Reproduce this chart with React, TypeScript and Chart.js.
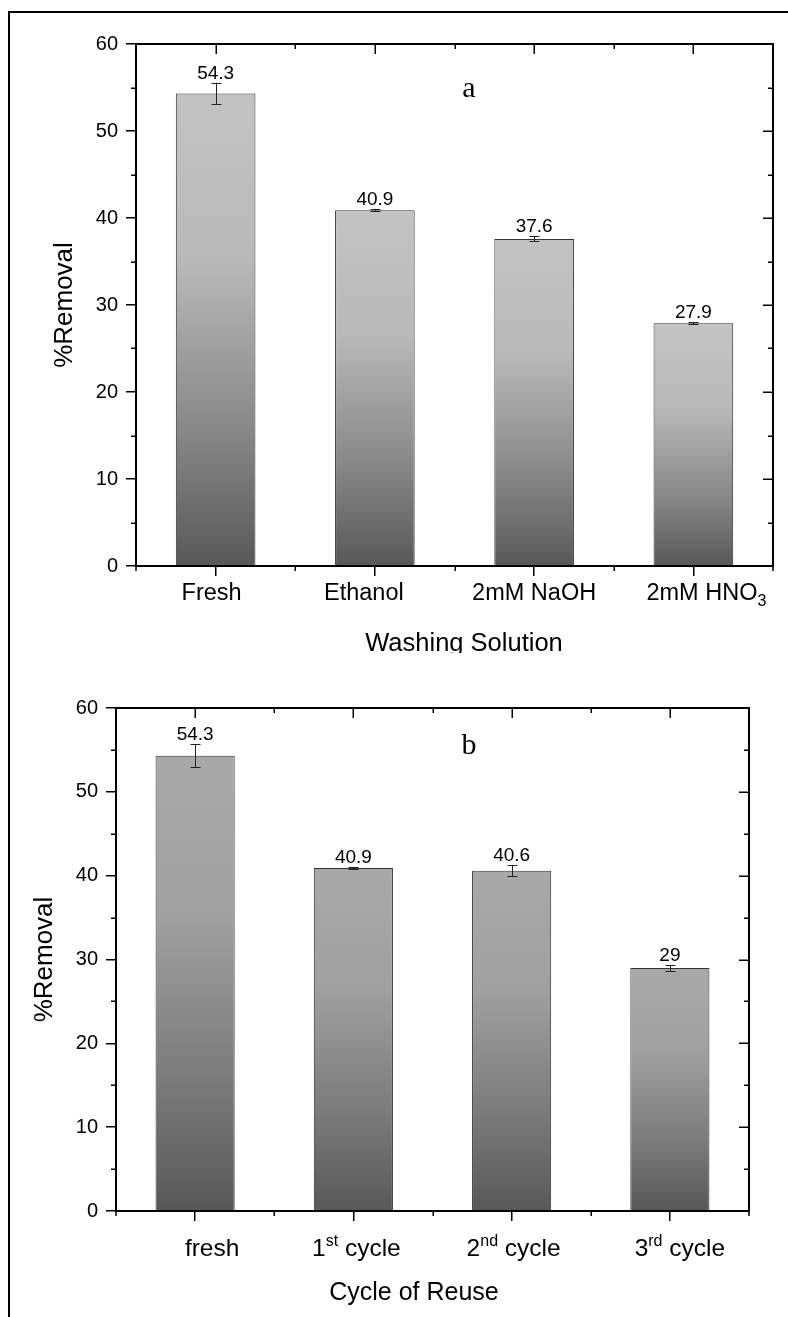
import React, { useEffect, useRef } from 'react';
import { Chart, registerables } from 'chart.js';

Chart.register(...registerables);

// ---------- data ----------
const washCategories = ['Fresh', 'Ethanol', '2mM NaOH', '2mM HNO_{3}'];
const washRemoval = [54.3, 40.9, 37.6, 27.9];
const washError = [1.25, 0.15, 0.3, 0.12];

const cycleCategories = ['fresh', '1^{st} cycle', '2^{nd} cycle', '3^{rd} cycle'];
const cycleRemoval = [54.3, 40.9, 40.6, 29];
const cycleError = [1.35, 0.15, 0.65, 0.35];

const yMin = 0;
const yMax = 60;
const yStep = 10;
const yMinorStep = 5;

const washTitle = 'Washing Solution';
const cycleTitle = 'Cycle of Reuse';
const yTitle = '%Removal';

// ---------- styles / layout ----------
const SANS = "'Liberation Sans', Arial, Helvetica, sans-serif";
const SERIF = "'Liberation Serif', 'Times New Roman', serif";

type Panel = {
  labels: string[];
  values: number[];
  errors: number[];
  height: number;
  area: { left: number; top: number; right: number; bottom: number };
  letter: string;
  letterX: number;
  letterY: number;
  xTitle: string;
  xTitleX: number;
  xTitleY: number;
  xTitleSize: number;
  yTitleX: number;
  labelSize: number;
  labelBaseline: number;
  labelNudge: number[];
  gradStops: [number, string][];
};

const W = 788;

const panelA: Panel = {
  labels: washCategories,
  values: washRemoval,
  errors: washError,
  height: 653,
  area: { left: 136, top: 44, right: 773, bottom: 566 },
  letter: 'a',
  letterX: 469,
  letterY: 97,
  xTitle: washTitle,
  xTitleX: 464,
  xTitleY: 651,
  xTitleSize: 25.5,
  yTitleX: 72,
  labelSize: 23.5,
  labelBaseline: 600,
  labelNudge: [-4, -11, 0, 13],
  gradStops: [
    [0, '#c3c3c3'],
    [0.35, '#b9b9b9'],
    [0.7, '#8a8a8a'],
    [1, '#585858'],
  ],
};

const panelB: Panel = {
  labels: cycleCategories,
  values: cycleRemoval,
  errors: cycleError,
  height: 664,
  area: { left: 116, top: 55, right: 749, bottom: 558 },
  letter: 'b',
  letterX: 469,
  letterY: 101,
  xTitle: cycleTitle,
  xTitleX: 414,
  xTitleY: 647,
  xTitleSize: 25,
  yTitleX: 52,
  labelSize: 24.5,
  labelBaseline: 603,
  labelNudge: [17, 3, 2, 10],
  gradStops: [
    [0, '#a9a9a9'],
    [0.35, '#a0a0a0'],
    [0.7, '#7c7c7c'],
    [1, '#585858'],
  ],
};

// ---------- rich text (sub/superscript) ----------
type Seg = { t: string; mode: 'n' | 'sup' | 'sub' };
function parseRich(s: string): Seg[] {
  const out: Seg[] = [];
  const re = /(\^\{[^}]*\}|_\{[^}]*\})/g;
  let last = 0;
  let m: RegExpExecArray | null;
  while ((m = re.exec(s))) {
    if (m.index > last) out.push({ t: s.slice(last, m.index), mode: 'n' });
    const tok = m[0];
    out.push({ t: tok.slice(2, -1), mode: tok[0] === '^' ? 'sup' : 'sub' });
    last = m.index + tok.length;
  }
  if (last < s.length) out.push({ t: s.slice(last), mode: 'n' });
  return out;
}
function plain(s: string) {
  return parseRich(s).map((p) => p.t).join('');
}
function drawRich(ctx: CanvasRenderingContext2D, s: string, cx: number, baseline: number, size: number) {
  const segs = parseRich(s);
  const small = Math.round(size * 0.66);
  const fontFor = (seg: Seg) => `${seg.mode === 'n' ? size : small}px ${SANS}`;
  let total = 0;
  const widths = segs.map((seg) => {
    ctx.font = fontFor(seg);
    const w = ctx.measureText(seg.t).width;
    total += w;
    return w;
  });
  let x = cx - total / 2;
  ctx.textAlign = 'left';
  ctx.textBaseline = 'alphabetic';
  segs.forEach((seg, i) => {
    ctx.font = fontFor(seg);
    const dy = seg.mode === 'sup' ? -size * 0.4 : seg.mode === 'sub' ? size * 0.26 : 0;
    ctx.fillText(seg.t, x, baseline + dy);
    x += widths[i];
  });
}

function makeConfig(p: Panel): any {
  const decor = {
    id: 'decor',
    afterDatasetsDraw(chart: any) {
      const ctx: CanvasRenderingContext2D = chart.ctx;
      const ys = chart.scales.y;
      const meta = chart.getDatasetMeta(0);
      ctx.save();
      // error bars
      ctx.strokeStyle = '#222';
      ctx.lineWidth = 1;
      p.values.forEach((v, i) => {
        const bar = meta.data[i];
        const x = Math.round(bar.x) + 0.5;
        const yt = ys.getPixelForValue(v + p.errors[i]);
        const yb = ys.getPixelForValue(v - p.errors[i]);
        ctx.beginPath();
        ctx.moveTo(x, yt);
        ctx.lineTo(x, yb);
        ctx.moveTo(x - 5, Math.round(yt) + 0.5);
        ctx.lineTo(x + 5, Math.round(yt) + 0.5);
        ctx.moveTo(x - 5, Math.round(yb) + 0.5);
        ctx.lineTo(x + 5, Math.round(yb) + 0.5);
        ctx.stroke();
        // value label
        ctx.fillStyle = '#000';
        ctx.font = `19px ${SANS}`;
        ctx.textAlign = 'center';
        ctx.textBaseline = 'alphabetic';
        ctx.fillText(String(v), bar.x, yt - 4);
      });
      ctx.restore();
    },
    afterDraw(chart: any) {
      const ctx: CanvasRenderingContext2D = chart.ctx;
      const a = chart.chartArea;
      const xs = chart.scales.x;
      const ys = chart.scales.y;
      ctx.save();
      ctx.strokeStyle = '#000';
      // top and right frame lines
      ctx.lineWidth = 2;
      ctx.beginPath();
      ctx.moveTo(a.left, a.top);
      ctx.lineTo(a.right + 1, a.top);
      ctx.moveTo(a.right, a.top);
      ctx.lineTo(a.right, a.bottom);
      ctx.stroke();
      // ticks
      ctx.lineWidth = 1.5;
      ctx.beginPath();
      for (let v = yMin; v <= yMax + 1e-9; v += yMinorStep) {
        const y = Math.round(ys.getPixelForValue(v)) + 0.25;
        const major = Math.abs(v / yStep - Math.round(v / yStep)) < 1e-6;
        const len = major ? 10 : 5;
        if (!major) {
          ctx.moveTo(a.left - 5, y);
          ctx.lineTo(a.left, y);
        }
        ctx.moveTo(a.right - len, y);
        ctx.lineTo(a.right, y);
      }
      const n = p.labels.length;
      for (let i = 0; i < n; i++) {
        const x = Math.round(xs.getPixelForValue(i)) + 0.25;
        ctx.moveTo(x, a.top);
        ctx.lineTo(x, a.top + 10);
      }
      for (let i = -1; i < n; i++) {
        const x = Math.round((xs.getPixelForValue(Math.max(i, 0)) + xs.getPixelForValue(Math.min(i + 1, n - 1))) / 2);
        const xx = i === -1 ? a.left : i === n - 1 ? a.right : x + 0.25;
        ctx.moveTo(xx, a.top);
        ctx.lineTo(xx, a.top + 5);
        ctx.moveTo(xx, a.bottom);
        ctx.lineTo(xx, a.bottom + 5);
      }
      ctx.stroke();
      // x category labels
      ctx.fillStyle = '#000';
      p.labels.forEach((lab, i) => {
        drawRich(ctx, lab, xs.getPixelForValue(i) + p.labelNudge[i], p.labelBaseline, p.labelSize);
      });
      // x title
      ctx.font = `${p.xTitleSize}px ${SANS}`;
      ctx.textAlign = 'center';
      ctx.textBaseline = 'alphabetic';
      ctx.fillText(p.xTitle, p.xTitleX, p.xTitleY);
      // y title
      ctx.save();
      ctx.translate(p.yTitleX, (a.top + a.bottom) / 2);
      ctx.rotate(-Math.PI / 2);
      ctx.font = `26px ${SANS}`;
      ctx.textAlign = 'center';
      ctx.textBaseline = 'alphabetic';
      ctx.fillText(yTitle, 0, 0);
      ctx.restore();
      // panel letter
      ctx.font = `30px ${SERIF}`;
      ctx.textAlign = 'center';
      ctx.fillText(p.letter, p.letterX, p.letterY);
      ctx.restore();
    },
  };

  const gridOpts = {
    display: true,
    drawOnChartArea: false,
    drawTicks: true,
    tickLength: 10,
    color: '#000',
    lineWidth: 1.5,
  };

  return {
    type: 'bar',
    data: {
      labels: p.labels.map(plain),
      datasets: [
        {
          data: p.values,
          backgroundColor: (c: any) => {
            const chart = c.chart;
            if (!chart.chartArea || c.type !== 'data') return '#999';
            const ys = chart.scales.y;
            const top = ys.getPixelForValue(c.raw);
            const bot = ys.getPixelForValue(0);
            const g = chart.ctx.createLinearGradient(0, top, 0, bot);
            p.gradStops.forEach(([o, col]) => g.addColorStop(o, col));
            return g;
          },
          borderColor: '#333',
          borderWidth: 1,
          barPercentage: 0.5,
          categoryPercentage: 1,
        },
      ],
    },
    options: {
      responsive: false,
      maintainAspectRatio: false,
      animation: false,
      events: [],
      layout: { padding: { left: 0, top: p.area.top, right: W - p.area.right, bottom: 0 } },
      plugins: { legend: { display: false }, tooltip: { enabled: false }, title: { display: false } },
      scales: {
        x: {
          type: 'category',
          offset: true,
          grid: { ...gridOpts, offset: false },
          border: { display: true, color: '#000', width: 2 },
          ticks: { display: true, callback: () => '', font: { size: 2 } },
          afterFit: (s: any) => {
            s.height = p.height - p.area.bottom;
          },
        },
        y: {
          min: yMin,
          max: yMax,
          grid: gridOpts,
          border: { display: true, color: '#000', width: 2 },
          ticks: { stepSize: yStep, color: '#000', padding: 8, font: { family: SANS, size: 20 } },
          afterFit: (s: any) => {
            s.width = p.area.left;
          },
        },
      },
    },
    plugins: [decor],
  };
}

function BarPanel({ panel, top }: { panel: Panel; top: number }) {
  const ref = useRef<HTMLCanvasElement>(null);
  useEffect(() => {
    const chart = new Chart(ref.current as HTMLCanvasElement, makeConfig(panel));
    return () => chart.destroy();
  }, [panel]);
  return (
    <canvas
      ref={ref}
      width={W}
      height={panel.height}
      style={{ position: 'absolute', left: 0, top, width: W, height: panel.height, display: 'block' }}
    />
  );
}

export default function App() {
  return (
    <div
      style={{
        position: 'fixed',
        left: 0,
        top: 0,
        width: W,
        height: 1317,
        overflow: 'hidden',
        background: '#fff',
      }}
    >
      <div
        style={{
          position: 'absolute',
          left: 8,
          top: 11,
          width: 900,
          height: 1400,
          borderTop: '2px solid #000',
          borderLeft: '2px solid #000',
        }}
      />
      <BarPanel panel={panelA} top={0} />
      <BarPanel panel={panelB} top={panelA.height} />
    </div>
  );
}
